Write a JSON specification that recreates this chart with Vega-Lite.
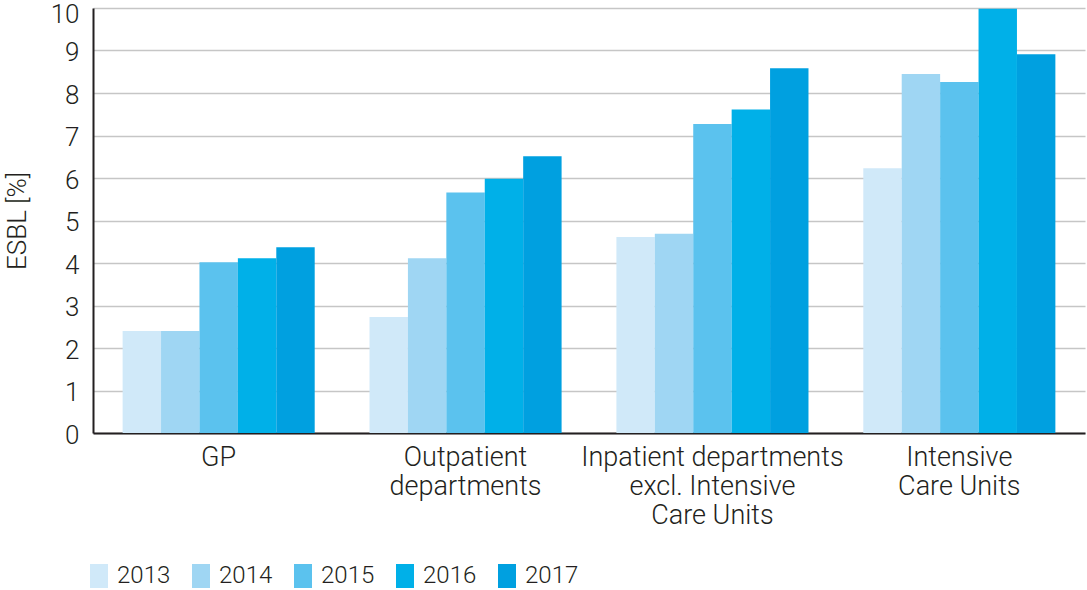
{
  "$schema": "https://vega.github.io/schema/vega-lite/v6.json",
  "autosize": {"type": "none"},
  "width": 992,
  "height": 425,
  "padding": {"left": 93, "top": 8, "right": 2, "bottom": 157},
  "background": "#ffffff",
  "config": {
    "font": "Roboto",
    "view": {"stroke": null},
    "axis": {"labelFont": "Roboto", "labelFontWeight": 300, "labelColor": "#231f20", "titleFont": "Roboto", "titleFontWeight": 300, "titleColor": "#231f20"}
  },
  "data": {
    "values": [
      {"category": "GP", "year": "2013", "value": 2.4},
      {"category": "GP", "year": "2014", "value": 2.4},
      {"category": "GP", "year": "2015", "value": 4.02},
      {"category": "GP", "year": "2016", "value": 4.11},
      {"category": "GP", "year": "2017", "value": 4.37},
      {"category": "Outpatient|departments", "year": "2013", "value": 2.73},
      {"category": "Outpatient|departments", "year": "2014", "value": 4.11},
      {"category": "Outpatient|departments", "year": "2015", "value": 5.66},
      {"category": "Outpatient|departments", "year": "2016", "value": 5.98},
      {"category": "Outpatient|departments", "year": "2017", "value": 6.51},
      {"category": "Inpatient departments|excl. Intensive|Care Units", "year": "2013", "value": 4.61},
      {"category": "Inpatient departments|excl. Intensive|Care Units", "year": "2014", "value": 4.69},
      {"category": "Inpatient departments|excl. Intensive|Care Units", "year": "2015", "value": 7.27},
      {"category": "Inpatient departments|excl. Intensive|Care Units", "year": "2016", "value": 7.61},
      {"category": "Inpatient departments|excl. Intensive|Care Units", "year": "2017", "value": 8.58},
      {"category": "Intensive|Care Units", "year": "2013", "value": 6.23},
      {"category": "Intensive|Care Units", "year": "2014", "value": 8.45},
      {"category": "Intensive|Care Units", "year": "2015", "value": 8.26},
      {"category": "Intensive|Care Units", "year": "2016", "value": 9.98},
      {"category": "Intensive|Care Units", "year": "2017", "value": 8.91}
    ]
  },
  "mark": {"type": "bar"},
  "encoding": {
    "x": {
      "field": "category",
      "type": "nominal",
      "sort": null,
      "scale": {"paddingInner": 0.222, "paddingOuter": 0.12},
      "axis": {
        "title": null,
        "labelAngle": 0,
        "labelExpr": "split(datum.label, '|')",
        "labelFontSize": 27,
        "labelLineHeight": 29,
        "labelPadding": 11,
        "labelLimit": 0,
        "ticks": false,
        "domainColor": "#231f20",
        "domainWidth": 2,
        "grid": false
      }
    },
    "xOffset": {"field": "year", "type": "nominal", "scale": {"paddingInner": 0, "paddingOuter": 0}},
    "y": {
      "field": "value",
      "type": "quantitative",
      "scale": {"domain": [0, 10], "nice": false},
      "axis": {
        "title": "ESBL [%]",
        "titleFontSize": 26,
        "titlePadding": 20,
        "values": [0, 1, 2, 3, 4, 5, 6, 7, 8, 9, 10],
        "labelFontSize": 26,
        "labelPadding": 14,
        "labelOffset": {"condition": {"test": "datum.value == 10", "value": 6}, "value": 2},
        "ticks": false,
        "domainColor": "#231f20",
        "domainWidth": 2,
        "gridColor": "#c6c6c6",
        "gridWidth": 1.5
      }
    },
    "color": {
      "field": "year",
      "type": "nominal",
      "scale": {"domain": ["2013", "2014", "2015", "2016", "2017"], "range": ["#d0e9f9", "#9fd6f3", "#5bc2ee", "#00b0e8", "#00a0e0"]},
      "legend": {
        "title": null,
        "orient": "none",
        "direction": "horizontal",
        "legendX": -6,
        "legendY": 556,
        "symbolType": "M-0.75,-1H0.75V1H-0.75Z",
        "symbolSize": 576,
        "symbolStrokeWidth": 0,
        "symbolOpacity": 1,
        "labelFont": "Roboto",
        "labelFontWeight": 300,
        "labelFontSize": 24,
        "labelColor": "#231f20",
        "labelOffset": 6,
        "columnPadding": 18
      }
    }
  }
}
